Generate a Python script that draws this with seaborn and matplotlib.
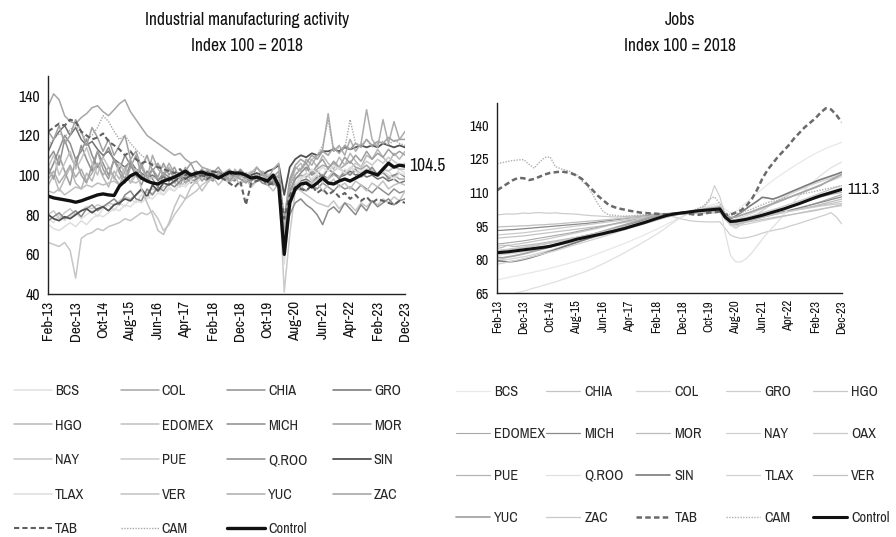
import numpy as np
import pandas as pd
import matplotlib
matplotlib.use("Agg")
import matplotlib.pyplot as plt
from matplotlib import font_manager as fm
import seaborn as sns

# ---------------- DATA ----------------
DATES = pd.date_range("2013-02-01", periods=66, freq="2MS")
TICK_DATES = pd.date_range("2013-02-01", "2023-12-01", freq="10MS")
TICK_LABELS = [d.strftime("%b-%y") for d in TICK_DATES]

# Industrial manufacturing activity (index 100 = 2018), every 2 months
IND_BCS = [78,76,80,77,79,81,78,80,82,79,83,
           85,82,86,84,88,86,90,88,91,93,90,
           94,92,96,95,98,97,99,98,100,99,101,
           100,98,101,99,97,100,98,101,99,97,68,
           88,96,99,101,98,102,100,104,101,99,103,
           101,104,102,105,103,100,104,102,99,103,101]
IND_COL = [135,141,138,130,127,126,129,131,134,135,132,
           130,133,136,138,132,128,124,120,118,116,114,
           112,110,111,108,106,107,104,103,102,100,101,
           100,99,101,100,98,99,101,100,98,97,60,
           90,98,100,99,101,103,105,104,106,103,105,
           107,104,103,105,102,100,101,99,100,98,98]
IND_CHIA = [108,112,105,118,110,104,115,108,102,112,106,
            100,108,103,98,106,100,95,102,98,94,100,
            97,99,95,101,98,96,100,99,97,101,100,
            98,97,100,99,95,97,98,96,95,97,70,
            88,92,94,92,95,93,96,94,92,95,93,
            94,92,95,93,91,94,92,90,93,91,92]
IND_GRO = [112,118,122,125,120,124,118,115,117,113,110,
           112,108,106,104,107,103,101,99,100,98,99,
           97,99,100,98,101,99,100,102,100,99,101,
           100,98,99,101,100,99,98,96,97,98,58,
           85,95,97,98,96,99,100,98,101,99,100,
           102,100,101,99,100,98,99,97,98,96,97]
IND_HGO = [95,100,92,98,104,96,93,101,97,105,99,
           94,102,98,104,96,100,106,99,103,97,101,
           104,99,96,102,100,98,103,101,99,102,100,
           97,103,100,99,101,98,102,100,97,99,72,
           94,103,106,102,108,104,110,106,103,109,105,
           111,107,104,110,108,113,109,106,111,108,112]
IND_EDOMEX = [92,91,93,90,92,94,93,95,94,96,95,
              96,97,95,98,97,96,98,97,99,98,97,
              99,98,100,99,101,100,99,101,100,99,101,
              100,99,98,100,99,98,97,98,97,96,70,
              86,94,96,97,96,98,99,98,100,99,101,
              100,102,101,103,102,101,103,102,104,103,103]
IND_MICH = [100,106,113,120,116,108,112,118,110,104,109,
            114,107,103,110,105,100,104,99,103,97,101,
            99,96,100,103,98,101,99,97,100,102,99,
            101,100,98,97,99,101,98,95,96,99,75,
            92,98,101,104,100,102,99,103,101,98,102,
            100,103,99,101,104,100,102,98,100,101,99]
IND_MOR = [104,98,110,102,95,108,100,96,105,112,103,
           98,108,101,96,104,110,100,97,103,99,106,
           100,104,98,102,106,100,103,99,101,104,100,
           102,99,103,100,98,104,101,97,99,102,68,
           90,100,103,106,101,105,108,103,107,104,109,
           106,110,107,112,108,111,109,113,110,112,110]
IND_NAY = [66,65,64,66,62,48,68,70,71,73,72,
           74,75,76,78,77,79,81,80,82,78,72,
           75,80,84,88,90,92,95,97,99,100,101,
           99,102,100,98,101,99,97,100,96,98,76,
           88,94,92,90,88,86,85,84,87,83,86,
           85,82,86,84,87,85,88,86,89,87,92]
IND_PUE = [80,82,78,81,83,80,82,84,83,85,84,
           86,85,87,89,88,90,92,91,93,92,94,
           95,96,94,97,98,97,99,100,99,101,100,
           102,101,99,100,102,100,98,99,97,96,41,
           70,92,98,101,97,100,96,99,102,104,101,
           103,106,104,107,105,108,106,109,107,105,106]
IND_QROO = [77,79,81,78,80,82,79,83,85,82,84,
            86,88,85,90,92,88,87,93,90,94,92,
            96,94,97,99,96,98,100,99,101,100,98,
            101,99,100,98,97,99,96,95,97,94,66,
            80,86,88,85,83,80,75,82,84,81,86,
            83,80,85,82,87,84,86,88,85,87,88]
IND_SIN = [80,78,77,79,78,80,82,83,81,83,84,
           82,85,86,88,87,90,93,89,95,92,96,
           95,97,99,98,100,101,99,100,102,101,100,
           101,100,102,99,100,101,100,102,103,105,90,
           104,108,110,109,111,110,112,112,113,112,114,
           113,114,115,114,115,114,116,115,114,115,114]
IND_TLAX = [75,73,72,74,76,74,77,75,78,80,79,
            81,83,82,85,84,87,86,89,88,91,90,
            93,92,95,94,97,96,99,98,100,101,99,
            102,100,98,101,99,100,98,97,99,98,55,
            82,95,98,100,103,101,104,102,105,103,101,
            104,102,100,103,101,99,102,100,98,101,100]
IND_VER = [104,110,100,106,112,103,108,114,106,100,109,
           104,98,106,101,96,103,93,86,80,72,70,
           76,84,90,88,94,97,92,96,99,95,98,
           96,99,95,98,94,97,99,95,92,96,72,
           90,95,93,97,94,96,92,95,98,94,96,
           93,97,95,92,96,94,97,93,95,96,95]
IND_YUC = [98,102,96,100,105,99,103,97,101,106,100,
           104,99,95,102,108,100,104,98,110,103,100,
           106,101,98,104,100,102,99,103,100,98,101,
           103,100,102,99,101,104,100,98,103,106,70,
           96,104,102,108,105,110,113,131,112,115,110,
           118,112,116,133,118,114,128,116,127,118,122]
IND_ZAC = [122,118,125,116,120,128,122,115,124,119,112,
           118,110,115,120,108,112,104,110,102,106,100,
           103,98,101,96,99,102,97,100,98,101,99,
           97,100,98,96,99,97,101,99,98,100,78,
           98,105,108,106,110,108,112,110,114,111,115,
           113,116,114,118,115,117,116,119,117,118,118]
IND_TAB = [122,124,126,125,128,127,122,120,118,119,121,
           117,115,113,110,112,108,106,107,105,104,103,
           102,101,103,100,101,99,100,98,100,99,98,
           96,94,97,85,96,97,98,95,96,94,78,
           90,94,93,92,95,91,93,90,92,89,91,
           88,90,87,89,86,88,87,86,85,87,86]
IND_CAM = [115,118,121,119,123,125,121,118,120,124,130,
           127,122,118,120,116,113,110,108,106,105,104,
           103,102,101,100,101,99,100,101,99,100,98,
           99,101,100,98,99,100,101,99,98,100,80,
           95,100,104,106,108,110,115,128,112,114,113,
           128,116,115,118,114,116,117,115,118,116,115]
IND_CONTROL = [89.4,88.5,88,87.5,87,86.3,87,88,89,90,90.5,
               90,89.7,94.5,97,99.6,101,98.5,97,96,95.5,97,
               98,99,100.5,102,100,101,101.5,100.5,100,98.5,100,
               101.5,101,101,100,98.5,99,98,97,100,94.5,60,
               86,93,95.5,96,94,96,98.5,96,95.5,97,98,
               97,98.5,100,102,101,100,103,106,104,105,104.5]

# Jobs (index 100 = 2018), every 2 months
JOB_BCS = [71.0,71.5,72.0,72.5,73.0,73.5,74.0,74.5,75.0,75.6,76.2,
           76.8,77.4,78.0,78.7,79.4,80.1,80.9,81.8,82.7,83.6,84.5,
           85.4,86.3,87.2,88.2,89.2,90.2,91.3,92.4,93.5,94.6,95.8,
           97.0,98.2,99.4,100.5,101.5,102.5,103.4,104.2,104.8,105.2,102.5,
           101.0,101.5,103.5,105.5,107.5,109.5,111.5,113.5,115.3,117.0,118.6,
           120.2,121.7,123.2,124.6,126.0,127.3,128.5,129.6,130.6,131.4,132.4]
JOB_CHIA = [89.6,89.8,90.0,90.2,90.4,90.6,90.9,91.2,91.5,91.8,92.1,
            92.4,92.7,93.0,93.3,93.6,93.9,94.2,94.5,94.8,95.1,95.4,
            95.8,96.2,96.6,97.0,97.4,97.8,98.2,98.6,99.0,99.4,99.8,
            100.1,100.3,100.5,100.7,100.9,101.1,101.3,101.4,101.5,101.5,98.8,
            97.0,97.0,97.4,97.8,98.2,98.7,99.2,99.7,100.2,100.7,101.2,
            101.7,102.2,102.6,103.0,103.4,103.8,104.2,104.6,105.0,105.5,106.0]
JOB_COL = [80.0,80.2,80.1,80.5,80.9,81.3,81.8,82.4,83.0,83.6,84.2,
           84.9,85.6,86.3,87.0,87.8,88.5,89.2,89.9,90.7,91.5,92.3,
           93.1,93.9,94.7,95.5,96.3,97.1,97.9,98.6,99.2,99.7,100.1,
           100.4,100.5,100.6,101.0,101.4,101.8,102.2,102.6,102.9,103.0,99.5,
           97.5,98.0,98.8,99.7,100.6,101.6,102.6,103.6,104.6,105.6,106.6,
           107.6,108.6,109.6,110.6,111.6,112.6,113.5,114.4,115.2,116.1,117.0]
JOB_GRO = [100.0,100.2,100.4,100.3,100.5,100.8,100.6,100.9,101.0,100.8,100.7,
           100.9,100.6,100.5,100.4,100.3,100.0,99.8,99.6,99.5,99.3,99.2,
           99.1,99.0,99.2,99.3,99.4,99.6,99.8,99.9,100.0,100.1,99.8,
           99.3,98.6,98.0,97.5,97.2,97.0,96.9,96.8,96.8,96.9,94.0,
           91.0,90.0,89.5,89.8,90.3,91.0,91.8,92.5,93.0,93.5,94.0,
           94.8,95.5,96.2,97.0,97.8,98.5,99.3,100.0,101.0,99.0,96.0]
JOB_HGO = [86.0,86.4,86.3,86.7,87.0,87.4,87.8,88.2,88.6,89.0,89.5,
           90.0,90.5,91.0,91.5,92.0,92.5,93.0,93.5,94.0,94.6,95.2,
           95.8,96.4,97.0,97.6,98.2,98.8,99.3,99.7,100.0,100.3,100.5,
           100.6,100.6,100.8,101.1,101.4,101.7,102.0,102.2,102.4,102.5,99.5,
           97.5,97.5,98.1,98.8,99.5,100.2,100.9,101.6,102.3,103.0,103.8,
           104.6,105.4,106.2,107.0,107.9,108.8,109.7,110.6,111.5,112.3,113.0]
JOB_EDOMEX = [87.0,87.2,87.5,87.8,88.1,88.4,88.8,89.2,89.6,90.0,90.4,
              90.8,91.2,91.6,92.0,92.5,93.0,93.5,94.0,94.5,95.0,95.5,
              96.0,96.5,97.0,97.5,98.0,98.5,99.0,99.4,99.8,100.1,100.3,
              100.4,100.5,100.7,100.9,101.1,101.3,101.5,101.7,101.9,102.0,98.5,
              96.3,96.0,96.5,97.0,97.6,98.2,98.8,99.4,100.0,100.6,101.2,
              101.8,102.4,103.0,103.7,104.4,105.1,105.8,106.6,107.4,108.2,109.0]
JOB_MICH = [93.0,93.1,93.3,93.4,93.6,93.8,94.0,94.2,94.4,94.6,94.8,
            95.0,95.2,95.4,95.6,95.8,96.0,96.2,96.5,96.8,97.1,97.4,
            97.7,98.0,98.3,98.6,98.9,99.2,99.5,99.8,100.0,100.2,100.3,
            100.4,100.4,100.6,100.8,101.0,101.2,101.4,101.6,101.8,102.0,99.0,
            97.2,97.0,97.4,97.9,98.4,98.9,99.4,99.9,100.4,100.9,101.4,
            101.9,102.5,103.1,103.7,104.3,104.9,105.5,106.1,106.8,107.4,108.0]
JOB_MOR = [85.0,85.5,86.5,85.8,86.0,86.3,86.6,86.9,87.2,87.6,88.0,
           88.4,88.8,89.2,89.6,90.0,90.5,91.0,91.5,92.0,92.5,93.0,
           93.5,94.0,94.5,95.0,95.5,96.0,96.6,97.2,97.8,98.4,99.0,
           99.5,100.0,100.5,100.8,101.1,101.4,101.6,101.8,102.0,102.0,99.0,
           96.8,96.5,97.0,97.5,98.0,98.5,99.0,99.5,100.0,100.5,101.0,
           101.5,102.0,102.5,103.0,103.5,104.0,104.6,105.2,105.8,106.4,107.0]
JOB_NAY = [82.0,82.3,82.6,82.9,83.2,83.5,83.9,84.3,84.7,85.1,85.6,
           86.1,86.6,87.1,87.6,88.1,88.6,89.2,89.8,90.4,91.0,91.6,
           92.2,92.8,93.4,94.0,94.7,95.4,96.1,96.8,97.5,98.2,98.9,
           99.6,100.3,100.9,101.5,102.0,102.6,103.5,106.0,113.0,108.0,100.0,
           95.5,94.0,95.5,97.0,98.6,100.2,101.8,103.4,105.0,106.5,107.8,
           109.0,110.0,111.0,112.0,113.0,114.0,114.8,115.6,116.4,117.2,118.0]
JOB_OAX = [91.0,91.2,91.4,91.6,91.8,92.0,92.3,92.6,92.9,93.2,93.5,
           93.8,94.1,94.4,94.7,95.0,95.3,95.6,95.9,96.2,96.5,96.8,
           97.1,97.4,97.7,98.0,98.3,98.6,98.9,99.2,99.5,99.8,100.1,
           100.2,100.3,100.4,100.6,100.8,101.0,101.2,101.3,101.4,101.5,99.0,
           97.5,97.5,97.9,98.3,98.7,99.1,99.5,99.9,100.3,100.7,101.1,
           101.5,101.9,102.3,102.7,103.1,103.5,103.9,104.2,104.5,104.8,105.0]
JOB_PUE = [84.0,84.2,84.5,84.8,85.1,85.4,85.8,86.2,86.6,87.0,87.4,
           87.9,88.4,88.9,89.4,89.9,90.4,90.9,91.4,91.9,92.5,93.1,
           93.7,94.3,94.9,95.5,96.1,96.7,97.3,97.9,98.5,99.1,99.7,
           100.2,100.5,100.7,101.0,101.3,101.6,101.9,102.2,102.4,102.5,98.0,
           95.5,95.5,96.2,97.0,97.8,98.6,99.4,100.2,101.0,101.8,102.6,
           103.4,104.2,105.0,105.8,106.5,107.2,107.9,108.5,109.1,109.6,110.0]
JOB_QROO = [63.0,63.6,64.2,64.8,65.4,66.0,66.7,67.4,68.0,68.7,69.4,
            70.1,70.9,71.7,72.5,73.3,74.1,75.0,76.0,77.1,78.2,79.4,
            80.6,81.8,83.1,84.4,85.7,87.0,88.4,89.8,91.3,92.8,94.5,
            96.2,97.8,99.2,100.4,101.4,102.2,102.9,103.5,104.0,104.3,92.0,
            82.0,79.0,79.0,80.5,83.0,86.0,89.0,92.0,94.5,97.0,100.0,
            103.0,106.0,108.5,111.0,113.5,115.5,117.5,119.3,121.0,122.3,123.5]
JOB_SIN = [79.5,79.3,79.0,79.2,79.6,80.1,80.7,81.4,82.1,82.9,83.7,
           84.5,85.3,86.1,86.9,87.7,88.5,89.3,90.1,90.9,91.7,92.5,
           93.3,94.1,94.9,95.7,96.5,97.3,98.1,98.9,99.6,100.1,100.4,
           100.6,100.8,101.0,101.3,101.6,101.9,102.2,102.5,102.8,103.0,100.0,
           98.2,99.5,101.0,102.8,104.5,106.0,107.8,107.5,107.0,107.8,108.8,
           109.8,110.8,111.8,112.8,113.8,114.8,115.7,116.5,117.3,118.1,119.0]
JOB_TLAX = [78.0,78.4,78.9,79.4,79.9,80.4,81.0,81.6,82.2,82.8,83.4,
            84.0,84.7,85.4,86.1,86.8,87.5,88.2,88.9,89.6,90.3,91.0,
            91.8,92.6,93.4,94.2,95.0,95.8,96.6,97.4,98.2,99.0,99.7,
            100.2,100.5,100.7,100.9,101.1,101.3,101.5,101.7,101.9,102.0,98.0,
            95.3,95.0,95.4,95.8,96.3,96.8,97.3,97.8,98.3,98.8,99.3,
            99.8,100.3,100.8,101.3,101.8,102.2,102.6,103.0,103.4,103.7,104.0]
JOB_VER = [94.6,94.7,94.8,94.9,95.0,95.1,95.2,95.4,95.5,95.6,95.8,
           95.9,96.1,96.3,96.5,96.7,96.9,97.1,97.3,97.5,97.7,97.9,
           98.1,98.3,98.5,98.7,98.9,99.1,99.3,99.5,99.7,99.9,100.1,
           100.2,100.2,100.3,100.4,100.5,100.6,100.7,100.8,100.9,101.0,98.2,
           96.5,96.0,96.3,96.7,97.1,97.5,97.9,98.3,98.7,99.1,99.5,
           99.9,100.3,100.7,101.1,101.5,101.9,102.4,102.9,103.4,104.0,104.5]
JOB_YUC = [81.0,80.8,81.2,81.6,82.1,82.6,83.2,83.8,84.4,85.0,85.7,
           86.4,87.1,87.8,88.5,89.2,89.9,90.6,91.3,92.0,92.7,93.4,
           94.1,94.8,95.5,96.2,96.9,97.6,98.3,99.0,99.6,100.1,100.4,
           100.6,100.7,100.9,101.3,101.7,102.1,102.5,102.9,103.2,103.5,100.5,
           98.8,99.0,99.8,100.6,101.4,102.3,103.2,104.1,105.0,105.9,106.8,
           107.7,108.6,109.5,110.4,111.3,112.2,113.1,114.4,115.6,116.8,118.0]
JOB_ZAC = [84.0,84.3,84.6,84.9,85.2,85.5,85.9,86.3,86.7,87.1,87.5,
           87.9,88.4,88.9,89.4,89.9,90.4,90.9,91.4,91.9,92.4,93.0,
           93.6,94.2,94.8,95.4,96.0,96.6,97.2,97.8,98.4,99.0,99.6,
           100.0,100.2,100.4,100.7,101.0,101.3,101.6,101.8,102.0,102.0,98.5,
           96.3,96.0,96.6,97.3,98.0,98.8,99.6,100.4,101.2,102.0,102.8,
           103.6,104.4,105.2,106.0,106.9,107.8,108.7,109.6,110.4,111.2,112.0]
JOB_TAB = [111.0,112.5,114.0,115.5,116.5,116.3,115.5,116.0,117.0,118.0,118.7,
           119.0,119.3,119.0,118.5,117.5,116.0,113.5,111.0,108.5,106.5,104.5,
           103.5,102.8,102.3,101.8,101.4,101.0,100.8,100.6,100.5,100.3,100.2,
           100.3,100.6,100.9,100.5,100.2,100.0,100.4,101.0,101.2,101.5,100.0,
           100.0,101.0,102.0,104.0,107.0,111.0,116.0,120.0,123.0,126.0,128.5,
           131.0,134.0,136.5,139.0,141.0,143.0,145.5,147.5,147.0,144.5,141.3]
JOB_CAM = [122.8,123.3,123.8,124.2,124.5,124.6,122.5,120.8,123.5,125.6,125.8,
           121.5,120.5,120.0,119.0,118.0,115.0,113.0,109.0,105.0,101.5,100.0,
           99.8,99.5,99.4,99.5,99.7,99.9,100.1,100.3,100.4,100.5,100.6,
           100.5,100.7,101.0,101.5,102.0,103.0,104.0,107.0,108.0,105.0,101.0,
           100.0,100.5,101.0,101.8,102.5,103.5,104.5,105.5,106.0,106.5,107.5,
           108.0,108.5,109.0,109.5,110.0,110.5,111.0,111.5,112.0,112.5,113.0]
JOB_CONTROL = [83.1,83.3,83.5,83.8,84.1,84.4,84.7,85.0,85.3,85.6,86.0,
               86.6,87.2,87.8,88.4,89.1,89.6,90.1,90.6,91.1,91.6,92.2,
               92.7,93.3,93.9,94.6,95.3,96.0,96.7,97.5,98.3,99.0,99.7,
               100.2,100.6,100.9,101.2,101.5,101.8,102.0,102.2,102.4,102.6,99.0,
               97.0,97.2,97.6,98.0,98.6,99.2,99.8,100.5,101.2,101.9,102.6,
               103.4,104.2,105.0,105.9,106.8,107.7,108.5,109.2,109.9,110.6,111.3]

IND_SERIES = {
    "BCS": IND_BCS, "COL": IND_COL, "CHIA": IND_CHIA, "GRO": IND_GRO,
    "HGO": IND_HGO, "EDOMEX": IND_EDOMEX, "MICH": IND_MICH, "MOR": IND_MOR,
    "NAY": IND_NAY, "PUE": IND_PUE, "Q.ROO": IND_QROO, "SIN": IND_SIN,
    "TLAX": IND_TLAX, "VER": IND_VER, "YUC": IND_YUC, "ZAC": IND_ZAC,
    "TAB": IND_TAB, "CAM": IND_CAM, "Control": IND_CONTROL,
}
JOB_SERIES = {
    "BCS": JOB_BCS, "CHIA": JOB_CHIA, "COL": JOB_COL, "GRO": JOB_GRO, "HGO": JOB_HGO,
    "EDOMEX": JOB_EDOMEX, "MICH": JOB_MICH, "MOR": JOB_MOR, "NAY": JOB_NAY, "OAX": JOB_OAX,
    "PUE": JOB_PUE, "Q.ROO": JOB_QROO, "SIN": JOB_SIN, "TLAX": JOB_TLAX, "VER": JOB_VER,
    "YUC": JOB_YUC, "ZAC": JOB_ZAC, "TAB": JOB_TAB, "CAM": JOB_CAM, "Control": JOB_CONTROL,
}

# ---------------- STYLES ----------------
IND_STYLE = {
    "BCS": ("#e0e0e0", 1.1, "-"), "COL": ("#a6a6a6", 1.1, "-"), "CHIA": ("#909090", 1.1, "-"),
    "GRO": ("#727272", 1.1, "-"), "HGO": ("#b8b8b8", 1.1, "-"), "EDOMEX": ("#bebebe", 1.1, "-"),
    "MICH": ("#8c8c8c", 1.1, "-"), "MOR": ("#9e9e9e", 1.1, "-"), "NAY": ("#c6c6c6", 1.1, "-"),
    "PUE": ("#cacaca", 1.1, "-"), "Q.ROO": ("#8a8a8a", 1.1, "-"), "SIN": ("#505050", 1.3, "-"),
    "TLAX": ("#dedede", 1.1, "-"), "VER": ("#c2c2c2", 1.1, "-"), "YUC": ("#acacac", 1.1, "-"),
    "ZAC": ("#a0a0a0", 1.1, "-"), "TAB": ("#606060", 1.5, (0, (2.5, 1.5))),
    "CAM": ("#a8a8a8", 1.0, (0, (1, 1))), "Control": ("#111111", 2.4, "-"),
}
JOB_STYLE = {
    "BCS": ("#e8e8e8", 0.9, "-"), "CHIA": ("#c4c4c4", 0.9, "-"), "COL": ("#d4d4d4", 0.9, "-"),
    "GRO": ("#cdcdcd", 0.9, "-"), "HGO": ("#c8c8c8", 0.9, "-"), "EDOMEX": ("#a8a8a8", 0.8, "-"),
    "MICH": ("#8a8a8a", 0.9, "-"), "MOR": ("#bcbcbc", 0.9, "-"), "NAY": ("#d0d0d0", 0.9, "-"),
    "OAX": ("#cacaca", 0.9, "-"), "PUE": ("#b4b4b4", 0.9, "-"), "Q.ROO": ("#e0e0e0", 0.9, "-"),
    "SIN": ("#7a7a7a", 1.2, "-"), "TLAX": ("#d2d2d2", 0.9, "-"), "VER": ("#c0c0c0", 0.9, "-"),
    "YUC": ("#a6a6a6", 1.3, "-"), "ZAC": ("#c8c8c8", 0.9, "-"),
    "TAB": ("#6a6a6a", 1.8, (0, (2.2, 1.3))), "CAM": ("#b0b0b0", 1.0, (0, (1, 1))),
    "Control": ("#111111", 2.2, "-"),
}

# ---------------- FONTS ----------------
sns.set_theme(style="white")
FAMILY = ["DejaVu Sans"]
STRETCH = "normal"
SCALE = 1.0
cands = [f for f in fm.fontManager.ttflist
         if ("Narrow" in f.name or "Condensed" in f.name
             or str(f.stretch) in ("condensed", "semi-condensed", "extra-condensed", "ultra-condensed"))]
if cands:
    pref = sorted(cands, key=lambda f: (0 if "Narrow" in f.name else 1, f.name))[0]
    FAMILY = [pref.name, "DejaVu Sans"]
    STRETCH = pref.stretch if pref.stretch else "normal"
    SCALE = 1.15
plt.rcParams["font.family"] = FAMILY
plt.rcParams["font.stretch"] = STRETCH


def fs(v):
    return v * SCALE


W, H = 896, 537
fig = plt.figure(figsize=(W / 100, H / 100), dpi=100)
fig.patch.set_facecolor("white")


def fx(px):
    return px / W


def fy(py):
    return 1 - py / H


ax1 = fig.add_axes([fx(48.3), fy(294), fx(405) - fx(48.3), fy(76) - fy(294)])
ax2 = fig.add_axes([fx(497.3), fy(293.3), fx(841.7) - fx(497.3), fy(102.7) - fy(293.3)])


def draw(ax, series, styles):
    handles = {}
    order = [k for k in series if k not in ("TAB", "CAM", "Control")] + ["CAM", "TAB", "Control"]
    for name in order:
        color, lw, ls = styles[name]
        sns.lineplot(x=DATES, y=series[name], ax=ax, color=color, linewidth=lw,
                     linestyle=ls, errorbar=None, legend=False, sort=False)
        handles[name] = ax.lines[-1]
    return handles


h1 = draw(ax1, IND_SERIES, IND_STYLE)
h2 = draw(ax2, JOB_SERIES, JOB_STYLE)

for ax, ylim, yt, xfs, yfs in [(ax1, (40, 150), [40, 60, 80, 100, 120, 140], 9.5, 10),
                                (ax2, (65, 150), [65, 80, 95, 110, 125, 140], 8, 9)]:
    ax.set_xlim(DATES[0], DATES[-1])
    ax.set_ylim(*ylim)
    ax.set_yticks(yt)
    ax.set_yticklabels([str(v) for v in yt], fontsize=fs(yfs))
    ax.set_xticks(TICK_DATES)
    ax.set_xticklabels(TICK_LABELS, rotation=90, fontsize=fs(xfs))
    ax.set_xlabel("")
    ax.set_ylabel("")
    ax.grid(False)
    ax.set_facecolor("white")
    for s in ["top", "right"]:
        ax.spines[s].set_visible(False)
    for s in ["left", "bottom"]:
        ax.spines[s].set_color("#222222")
        ax.spines[s].set_linewidth(1.0)
    ax.tick_params(axis="both", which="major", direction="out", length=4, width=0.9,
                   color="#222222", pad=2, labelcolor="#111111")
    ax.tick_params(axis="x", direction="inout", length=6)

ax1.annotate("104.5", xy=(DATES[-1], IND_CONTROL[-1]), xytext=(3, 0),
             textcoords="offset points", va="center", ha="left", fontsize=fs(11), color="#111111")
ax2.annotate("111.3", xy=(DATES[-1], JOB_CONTROL[-1]), xytext=(4, 0),
             textcoords="offset points", va="center", ha="left", fontsize=fs(10), color="#111111")

TFS = fs(11)
fig.text(fx(247), fy(20), "Industrial manufacturing activity", ha="center", va="center",
         fontsize=TFS, color="#111111")
fig.text(fx(247), fy(46), "Index 100 = 2018", ha="center", va="center", fontsize=TFS, color="#111111")
fig.text(fx(680), fy(20), "Jobs", ha="center", va="center", fontsize=TFS, color="#111111")
fig.text(fx(680), fy(46), "Index 100 = 2018", ha="center", va="center", fontsize=TFS, color="#111111")

# ---------------- LEGENDS ----------------
LEFT_COLS = [["BCS", "HGO", "NAY", "TLAX", "TAB"],
             ["COL", "EDOMEX", "PUE", "VER", "CAM"],
             ["CHIA", "MICH", "Q.ROO", "YUC", "Control"],
             ["GRO", "MOR", "SIN", "ZAC"]]
LEFT_X = [14, 121, 227, 333]
RIGHT_COLS = [["BCS", "EDOMEX", "PUE", "YUC"],
              ["CHIA", "MICH", "Q.ROO", "ZAC"],
              ["COL", "MOR", "SIN", "TAB"],
              ["GRO", "NAY", "TLAX", "CAM"],
              ["HGO", "OAX", "VER", "Control"]]
RIGHT_X = [456, 546, 636, 726, 813]

LFS = fs(9)
LPX = LFS * 100 / 72
for names, x in zip(LEFT_COLS, LEFT_X):
    fig.legend([h1[n] for n in names], names, loc="upper left",
               bbox_to_anchor=(fx(x), fy(384)), frameon=False, fontsize=LFS,
               handlelength=38 / LPX, handletextpad=0.2,
               labelspacing=(34.6 - LPX * 1.2) / LPX + 0.22,
               borderpad=0, borderaxespad=0)
for names, x in zip(RIGHT_COLS, RIGHT_X):
    fig.legend([h2[n] for n in names], names, loc="upper left",
               bbox_to_anchor=(fx(x), fy(385)), frameon=False, fontsize=LFS,
               handlelength=34 / LPX, handletextpad=0.3,
               labelspacing=(41.7 - LPX * 1.2) / LPX + 0.24,
               borderpad=0, borderaxespad=0)

fig.savefig("out.png", dpi=100, facecolor="white")
